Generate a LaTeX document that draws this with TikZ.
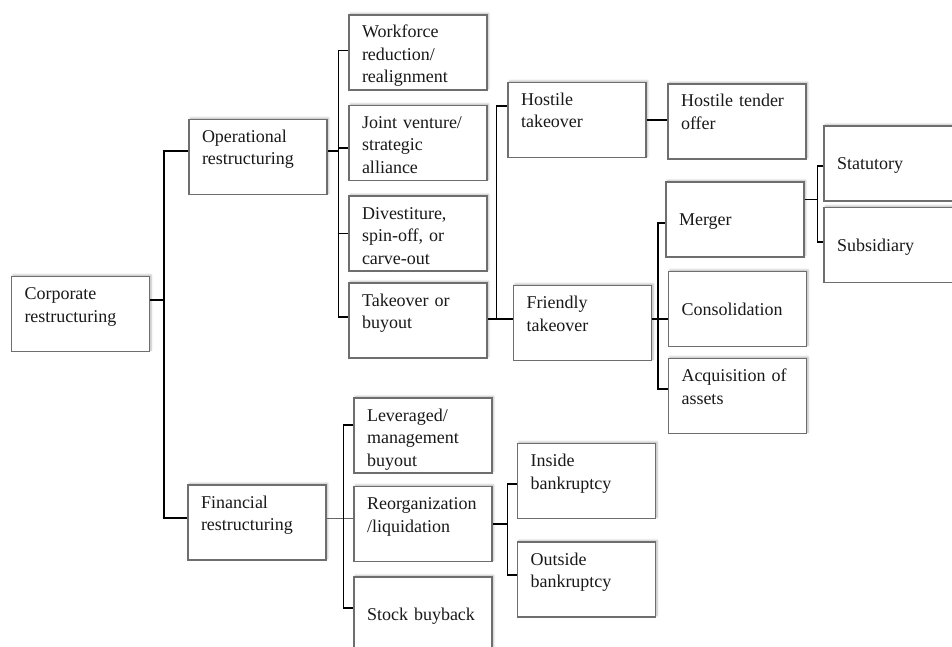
\documentclass[tikz,border=0pt]{standalone}
\usepackage{fontspec}
\setmainfont{Liberation Serif}
\usetikzlibrary{shadows.blur}
\definecolor{boxgray}{RGB}{110,110,110}
\definecolor{textgray}{RGB}{25,25,25}

\begin{document}
\begin{tikzpicture}[x=1pt, y=-1pt,
  box/.style={draw=boxgray, line width=1.2pt, fill=white, rectangle,
    minimum width=138pt, minimum height=75pt, text width=112pt,
    text height=23pt, text depth=52pt,
    inner xsep=13pt, inner ysep=0pt, align=left, text=textgray,
    font=\fontsize{18}{22.5}\selectfont,
    blur shadow={shadow xshift=1.5pt, shadow yshift=1.5pt,
      shadow opacity=30, shadow blur radius=2pt}},
  single/.style={box, text height=43.5pt, text depth=31.5pt},
  link/.style={line width=1.3pt, black},
  thinlink/.style={line width=0.6pt, black!60}]
  \useasboundingbox (0,0) rectangle (952,647);

  % Root and first split
  \node[box] (corp) at (80.5,314) {Corporate\\restructuring};
  \node[box] (op) at (258,157) {Operational\\restructuring};
  \node[box] (fin) at (257,522.5) {Financial\\restructuring};

  % Operational restructuring branches
  \node[box] (wf) at (418,52.5) {Workforce\\reduction/\\realignment};
  \node[box] (jv) at (418,143) {Joint venture/\\strategic\\alliance};
  \node[box] (dv) at (418,233.5) {Divestiture,\\spin-off, or\\carve-out};
  \node[box] (tk) at (418,320.5) {Takeover or\\buyout};

  % Takeovers
  \node[box] (hos) at (577,120) {Hostile\\takeover};
  \node[box] (hto) at (737,121.5) {Hostile tender\\offer};
  \node[box] (fr) at (582.5,323) {Friendly\\takeover};
  \node[single] (mer) at (735,219.5) {Merger};
  \node[single] (con) at (737.5,309) {Consolidation};
  \node[box] (acq) at (737.5,396) {Acquisition of\\assets};
  \node[single] (sta) at (893,163.5) {Statutory};
  \node[single] (sub) at (893,245) {Subsidiary};

  % Financial restructuring branches
  \node[box] (lev) at (423,435.5) {Leveraged/\\management\\buyout};
  \node[box] (reo) at (423,524) {Reorganization\\/liquidation};
  \node[single] (stk) at (423,614.5) {Stock buyback};
  \node[box] (ins) at (586.5,481) {Inside\\bankruptcy};
  \node[box] (out) at (586.5,579.5) {Outside\\bankruptcy};

  % Connectors
  \draw[link] ([yshift=14pt]corp.east) -- ++(14,0) coordinate (cJ);
  \draw[link] (cJ) |- ([yshift=6pt]op.west);
  \draw[link] (cJ) |- ([yshift=4.5pt]fin.west);

  \draw[link] ([yshift=6pt]op.east) -- ++(11,0) coordinate (oJ);
  \foreach \n/\s in {wf/2, jv/-5, dv/0, tk/3.5}
    \draw[link] (oJ) |- ([yshift=\s pt]\n.west);

  \draw[link] ([yshift=1.5pt]tk.east) -- ++(9,0) coordinate (tJ);
  \draw[link] (tJ) |- ([yshift=14pt]hos.west);
  \draw[link] (tJ) |- ([yshift=4pt]fr.west);
  \draw[link] (hos.east) -- (hos.east -| hto.west);

  \draw[link] ([yshift=4pt]fr.east) -- ++(6,0) coordinate (fJ);
  \foreach \n/\s in {mer/-3.5, con/-10, acq/7}
    \draw[link] (fJ) |- ([yshift=\s pt]\n.west);

  \draw[link] ([yshift=20pt]mer.east) -- ++(13,0) coordinate (mJ);
  \foreach \n/\s in {sta/-2.5, sub/3}
    \draw[link] (mJ) |- ([yshift=\s pt]\n.west);

  \draw[thinlink] ([yshift=4.5pt]fin.east) -- ++(17,0) coordinate (fnJ);
  \draw[link] (fnJ) |- ([yshift=10.5pt]lev.west);
  \draw[thinlink] (fnJ) -- ([yshift=6pt]reo.west);
  \draw[link] (fnJ) |- ([yshift=6.5pt]stk.west);

  \draw[link] (reo.east) -- ++(15,0) coordinate (rJ);
  \foreach \n/\s in {ins/-3, out/4.5}
    \draw[link] (rJ) |- ([yshift=\s pt]\n.west);
\end{tikzpicture}
\end{document}
